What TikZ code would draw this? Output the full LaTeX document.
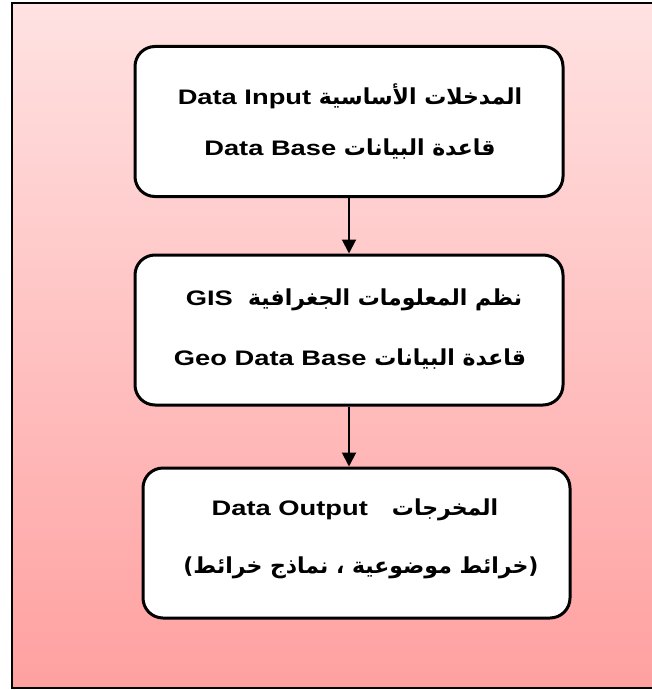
\documentclass[tikz,border=0pt]{standalone}
\usepackage{fontspec}
\usetikzlibrary{arrows.meta}
\TeXXeTstate=1
\newfontfamily\arabicfont[Script=Arabic]{DejaVu Sans}
\newfontfamily\latfont[FakeStretch=1.3]{Liberation Sans}
\definecolor{bgtop}{RGB}{255,226,226}
\definecolor{bgbot}{RGB}{255,160,160}
\newcommand{\ar}{\arabicfont\bfseries\fontsize{22}{26}\selectfont}
\newcommand{\la}{\latfont\bfseries\fontsize{21}{25}\selectfont}
\tikzset{
  flowbox/.style={draw=black, line width=3pt, fill=white, rounded corners=20pt,
    minimum width=428pt, minimum height=150pt, inner sep=0pt},
  txt/.style={anchor=base, inner sep=0pt},
  flowarrow/.style={line width=2pt, -{Triangle[width=14pt,length=14pt]}}
}
\begin{document}
\begin{tikzpicture}[x=1pt,y=-1pt]
\useasboundingbox (0,0) rectangle (652,690);
\begin{scope}
\clip (0,0) rectangle (652,690);
\shade[top color=bgtop, bottom color=bgbot, draw=black, line width=2pt] (12,3) rectangle (662,688);
\end{scope}
\node[flowbox] (b1) at (349,121.5) {};
\node[flowbox] (b2) at (349,330) {};
\node[flowbox, minimum width=427pt] (b3) at (356.5,543) {};
\node[txt] (t11) at (350,105) {\ar\beginR المدخلات الأساسية {\la\beginL Data Input\endL}\endR};
\node[txt] (t12) at (350,155) {\ar\beginR قاعدة البيانات {\la\beginL Data Base\endL}\endR};
\node[txt] (t21) at (354,305) {\ar\beginR نظم المعلومات الجغرافية \ {\la\beginL GIS\endL}\endR};
\node[txt] (t22) at (350,365) {\ar\beginR قاعدة البيانات {\la\beginL Geo Data Base\endL}\endR};
\node[txt] (t31) at (355,515) {\ar\beginR المخرجات\hspace{24pt}{\la\beginL Data Output\endL}\endR};
\node[txt] (t32) at (361,573) {\ar\beginR(خرائط موضوعية ، نماذج خرائط)\endR};
\draw[flowarrow] (b1.south) -- (b2.north);
\draw[flowarrow] (b2.south) -- (b2.south |- b3.north);
\end{tikzpicture}
\end{document}
